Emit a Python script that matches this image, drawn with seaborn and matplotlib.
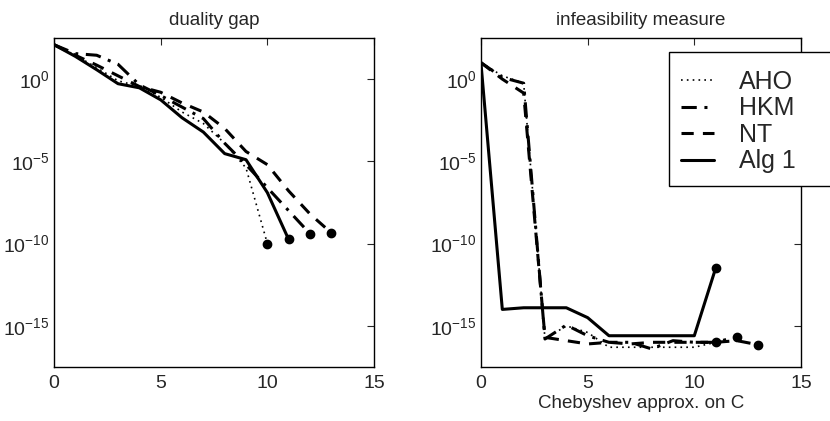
import numpy as np
import seaborn as sns
import matplotlib
from matplotlib import pyplot as plt
from matplotlib.patches import Rectangle

# log10 of the values
gap_aho = [2.09, 1.45, 0.70, -0.10, -0.45, -1.10, -2.00, -2.70, -3.90, -5.40, -10.0]
gap_hkm = [2.09, 1.55, 1.45, 0.90, -0.35, -1.00, -1.70, -2.40, -3.90, -5.20, -6.60, -8.00, -9.40]
gap_nt = [2.09, 1.45, 0.85, 0.20, -0.45, -0.80, -1.45, -2.00, -3.00, -4.40, -5.20, -6.80, -8.20, -9.35]
gap_alg1 = [2.09, 1.38, 0.57, -0.28, -0.53, -1.26, -2.35, -3.22, -4.53, -4.90, -6.90, -9.75]

inf_aho = [1.00, 0.20, -0.25, -15.8, -15.0, -15.4, -16.3, -16.3, -16.3, -16.3, -16.3, -16.0]
inf_hkm = [1.00, 0.10, -0.25, -15.8, -14.95, -15.6, -16.0, -16.0, -16.4, -15.9, -16.0, -16.0, -15.66]
inf_nt = [1.00, 0.00, -0.85, -15.7, -15.9, -16.1, -16.0, -16.1, -16.0, -16.0, -16.0, -16.0, -15.9, -16.15]
inf_alg1 = [0.95, -14.0, -13.9, -13.9, -13.9, -14.5, -15.6, -15.6, -15.6, -15.6, -15.6, -11.5]

names = ['AHO', 'HKM', 'NT', 'Alg 1']
styles = {
    'AHO': dict(ls=(0, (1, 2.5)), lw=1.2),
    'HKM': dict(ls=(0, (5, 2.5, 1, 2.5)), lw=2.2),
    'NT': dict(ls=(0, (4, 3)), lw=2.2),
    'Alg 1': dict(ls='-', lw=2.2),
}

sns.set_style('white')
plt.rcParams['font.family'] = ['Liberation Sans', 'DejaVu Sans']
plt.rcParams['mathtext.fontset'] = 'custom'
plt.rcParams['mathtext.rm'] = 'Liberation Sans'


def panel(ax, series, title):
    for name, vals in zip(names, series):
        y = 10.0 ** np.array(vals)
        x = np.arange(len(y))
        sns.lineplot(x=x, y=y, ax=ax, color='black', label=name,
                     legend=False, **styles[name])
        ax.plot(x[-1], y[-1], 'o', color='black', ms=6)
    ax.set_yscale('log')
    ax.set_xlim(0, 15)
    ax.set_ylim(10 ** -17.5, 10 ** 2.5)
    ax.set_xticks([0, 5, 10, 15])
    ax.set_yticks([1e0, 1e-5, 1e-10, 1e-15])
    ax.yaxis.set_minor_locator(matplotlib.ticker.NullLocator())
    ax.tick_params(direction='in', top=True, right=True, length=5,
                   width=0.8, labelsize=14)
    ax.tick_params(axis='y', pad=3)
    ax.tick_params(axis='x', pad=6)
    for s in ax.spines.values():
        s.set_color('black')
        s.set_linewidth(1.0)
    ax.set_title(title, fontsize=13.5, pad=9)


fig = plt.figure(figsize=(8.3, 4.21), dpi=100)
ax1 = fig.add_axes([0.0651, 0.1283, 0.3855, 0.7815])
ax2 = fig.add_axes([0.5795, 0.1283, 0.3855, 0.7815])

panel(ax1, [gap_aho, gap_hkm, gap_nt, gap_alg1], 'duality gap')
panel(ax2, [inf_aho, inf_hkm, inf_nt, inf_alg1], 'infeasibility measure')
ax2.set_xlabel('Chebyshev approx. on C', fontsize=13.5, labelpad=2)

# legend box runs off the right edge of the figure
box = Rectangle((669 / 830, 1 - 186 / 421), 180 / 830, 134 / 421,
                transform=fig.transFigure, facecolor='white', edgecolor='black',
                lw=1.0, clip_on=False, zorder=4)
ax2.add_patch(box)

handles, labels = ax2.get_legend_handles_labels()
leg = ax2.legend(handles, labels, loc='upper left', bbox_to_anchor=(0.806, 0.864),
                 bbox_transform=fig.transFigure, fontsize=18, frameon=False,
                 handlelength=1.3, labelspacing=0.1, borderpad=0.5,
                 handletextpad=1.0, borderaxespad=0)
leg.set_zorder(5)

fig.savefig('out.png', dpi=100)
